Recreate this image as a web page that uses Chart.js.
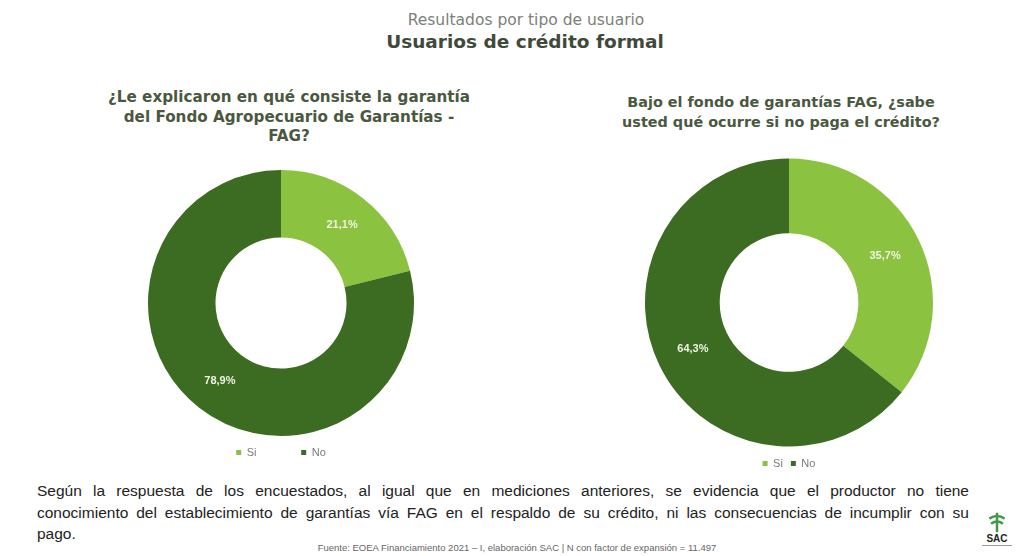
<!DOCTYPE html>
<html>
<head>
<meta charset="utf-8">
<script src="https://cdn.jsdelivr.net/npm/chart.js@4"></script>
<style>
  body { margin: 0; background: #fff; width: 1028px; height: 556px; position: relative; overflow: hidden; font-family: "Liberation Sans", Arial, sans-serif; }
  .abs { position: absolute; }
  .sub { left: 26px; width: 1000px; top: 11px; text-align: center; font-family: "DejaVu Sans", sans-serif; font-size: 15.5px; color: #7c807a; }
  .main { left: 25px; width: 1000px; top: 31px; text-align: center; font-family: "DejaVu Sans", sans-serif; font-size: 18.5px; font-weight: bold; color: #3f4a3b; }
  .q { font-family: "DejaVu Sans", sans-serif; font-weight: bold; color: #4a5840; text-align: center; line-height: 19.5px; white-space: nowrap; }
  .note { left: 37px; width: 932px; font-size: 15.5px; color: #222; text-align: justify; text-align-last: justify; white-space: nowrap; }
  .note.last { text-align-last: left; }
  .src { left: 17px; width: 1000px; top: 542px; text-align: center; font-size: 9.5px; color: #666; }
  .logo { left: 972px; top: 510px; width: 50px; text-align: center; }
</style>
</head>
<body>
<div class="abs sub">Resultados por tipo de usuario</div>
<div class="abs main">Usuarios de crédito formal</div>
<div class="abs q" style="left:89px; width:400px; top:88px; font-size:15.2px;">¿Le explicaron en qué consiste la garantía<br>del Fondo Agropecuario de Garantías -<br>FAG?</div>
<div class="abs q" style="left:581px; width:400px; top:93px; font-size:14.4px;">Bajo el fondo de garantías FAG, ¿sabe<br>usted qué ocurre si no paga el crédito?</div>

<div style="position:absolute; left:131px; top:167px; width:300px; height:301px;"><canvas id="chartA"></canvas></div>
<div style="position:absolute; left:634px; top:155px; width:310px; height:324px;"><canvas id="chartB"></canvas></div>

<div class="abs note" style="top:482px;">Según la respuesta de los encuestados, al igual que en mediciones anteriores, se evidencia que el productor no tiene</div>
<div class="abs note" style="top:504px;">conocimiento del establecimiento de garantías vía FAG en el respaldo de su crédito, ni las consecuencias de incumplir con su</div>
<div class="abs note last" style="top:525px;">pago.</div>
<div class="abs src">Fuente: EOEA Financiamiento 2021 – I, elaboración SAC | N con factor de expansión = 11.497</div>
<div class="abs logo">
  <svg width="22" height="24" viewBox="0 0 26 26">
    <path d="M13 2 L13 25 M4 9 Q13 3 22 9 M6 15 Q13 10 20 15" stroke="#3f9a4a" stroke-width="3" fill="none"/>
  </svg>
  <div style="font-size:10px; font-weight:bold; color:#222; margin-top:-5px;">SAC</div>
  <div style="height:1px; background:#999; width:30px; margin:1px auto;"></div>
</div>

<script>
const categories = ["Si", "No"];
const explicaronValues = [21.1, 78.9];
const sabeValues = [35.7, 64.3];
const colors = ["#8bc23f", "#3c6b22"];

const labelPlugin = {
  id: "pctLabels",
  afterDatasetsDraw(chart) {
    const ctx = chart.ctx;
    const meta = chart.getDatasetMeta(0);
    const data = chart.data.datasets[0].data;
    ctx.save();
    ctx.fillStyle = "#eef4e2";
    ctx.font = "bold 11px 'Liberation Sans', Arial, sans-serif";
    ctx.textAlign = "center";
    ctx.textBaseline = "middle";
    meta.data.forEach(function (arc, i) {
      const p = arc.tooltipPosition();
      ctx.fillText(data[i].toFixed(1).replace(".", ",") + "%", p.x, p.y);
    });
    ctx.restore();
  }
};

// extra blank after each legend text widens the gap without making the legend taller
function makeDonut(id, values, radius, cutout, gap) {
  return new Chart(document.getElementById(id), {
    type: "doughnut",
    data: {
      labels: categories,
      datasets: [{
        data: values,
        backgroundColor: colors,
        borderWidth: 0,
        radius: radius,
        cutout: cutout
      }]
    },
    options: {
      responsive: true,
      maintainAspectRatio: false,
      animation: false,
      layout: { padding: 0 },
      plugins: {
        tooltip: { enabled: false },
        legend: {
          position: "bottom",
          labels: {
            usePointStyle: true,
            pointStyle: "rect",
            boxWidth: 5,
            boxHeight: 5,
            padding: 8,
            color: "#7a7a7a",
            font: { size: 11, family: "'Liberation Sans', Arial, sans-serif" },
            generateLabels(chart) {
              const items = Chart.overrides.doughnut.plugins.legend.labels.generateLabels(chart);
              items.forEach(function (it, i) {
                if (i < items.length - 1) it.text = it.text + gap;
              });
              return items;
            }
          }
        }
      }
    },
    plugins: [labelPlugin]
  });
}

makeDonut("chartA", explicaronValues, 133, 67, "            ");
makeDonut("chartB", sabeValues, 144, 71, "");
</script>
</body>
</html>
